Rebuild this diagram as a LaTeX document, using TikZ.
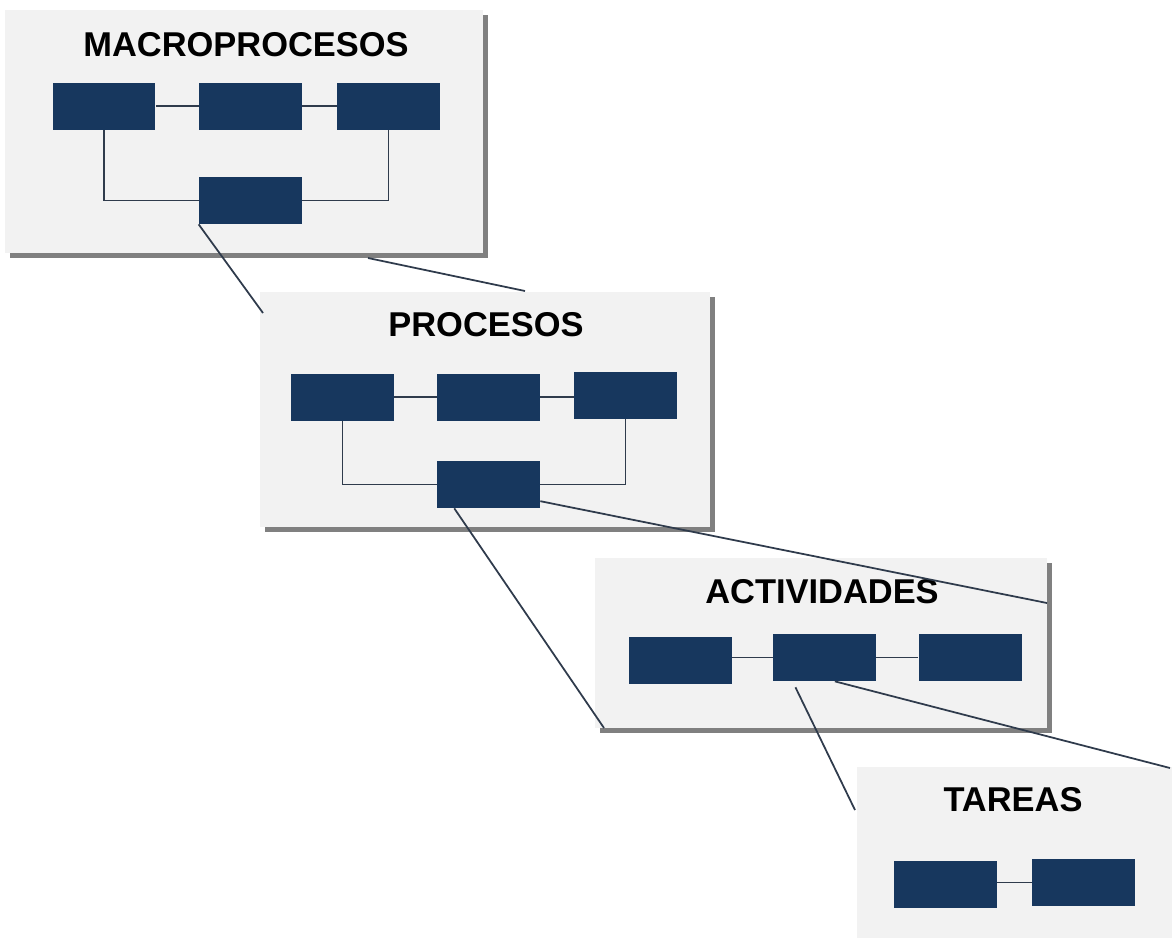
\documentclass[tikz,border=0pt]{standalone}
\usepackage{fontspec}
\setmainfont{Liberation Sans}
\usetikzlibrary{positioning,calc,fit,shadows}
\definecolor{navy}{HTML}{17375E}
\definecolor{panelgray}{HTML}{F2F2F2}
\definecolor{linkgray}{HTML}{2F3B4C}
\tikzset{
  panel/.style={rectangle, fill=panelgray, inner sep=0pt,
    drop shadow={shadow xshift=0.1cm, shadow yshift=-0.1cm, opacity=1, fill=black!50}},
  blk/.style={rectangle, fill=navy, minimum width=2.06cm, minimum height=0.94cm, inner sep=0pt},
  level/.style={font=\fontsize{19.6}{23}\selectfont\bfseries, text=black},
  link/.style={draw=linkgray, line width=1pt},
  zoomline/.style={draw=linkgray, line width=1pt},
}
\begin{document}
\begin{tikzpicture}[x=0.02cm, y=-0.02cm]
  \useasboundingbox (0,0) rectangle (1172,937);
  % panels
  \node[panel, fit={(5,10) (483,253)}] (macro) {};
  \node[panel, fit={(260,292) (710,527)}] (proc) {};
  \node[panel, fit={(595,558) (1047,728)}] (act) {};
  \node[panel, fit={(857,767) (1190,960)}] (tar) {};
  % titles
  \node[level] (tmacro) at (246,45) {MACROPROCESOS};
  \node[level] (tproc) at (486,325) {PROCESOS};
  \node[level] (tact) at (822,592) {ACTIVIDADES};
  \node[level] (ttar) at (1013,800) {TAREAS};
  % macroprocesos
  \node[blk] (m1) at (104,106) {};
  \node[blk] (m2) at (250.5,106) {};
  \node[blk] (m3) at (388.5,106) {};
  \node[blk] (m4) at (250.5,200.5) {};
  \draw[link] (m1) -- (m2) -- (m3);
  \draw[link] (m1.south) |- (m4.west);
  \draw[link] (m3.south) |- (m4.east);
  % procesos
  \node[blk] (p1) at (342.5,397) {};
  \node[blk] (p2) at (488.5,397) {};
  \node[blk] (p3) at (625.5,395) {};
  \node[blk] (p4) at (488.5,484.5) {};
  \draw[link] (p1) -- (p2) -- (p2 -| p3.west);
  \draw[link] (p1.south) |- (p4.west);
  \draw[link] (p3.south) |- (p4.east);
  % actividades
  \node[blk] (a1) at (680,660) {};
  \node[blk] (a2) at (824.5,657.5) {};
  \node[blk] (a3) at (970,657.5) {};
  \draw[link] (a1.east |- a2) -- (a2) -- (a3);
  % tareas
  \node[blk] (t1) at (945.5,884.5) {};
  \node[blk] (t2) at (1083.5,882.5) {};
  \draw[link] (t1.east |- t2) -- (t2);
  % zoom lines
  \coordinate (c1) at (263,313);
  \coordinate (c2) at (368,258);
  \coordinate (c3) at (525,291);
  \coordinate (c4) at (604,728);
  \coordinate (c5) at (1047,603);
  \coordinate (c6) at (855,810);
  \coordinate (c7) at (1170,768);
  \draw[zoomline] (m4.south west) -- (c1);
  \draw[zoomline] (c2) -- (c3);
  \draw[zoomline] ($(p4.south west)!0.17!(p4.south east)$) -- (c4);
  \draw[zoomline] ($(p4.east)!0.7!(p4.south east)$) -- (c5);
  \draw[zoomline] ($(a2.south west)!0.22!(a2.south east)+(0,6)$) -- (c6);
  \draw[zoomline] ($(a2.south west)!0.6!(a2.south east)$) -- (c7);
\end{tikzpicture}
\end{document}
